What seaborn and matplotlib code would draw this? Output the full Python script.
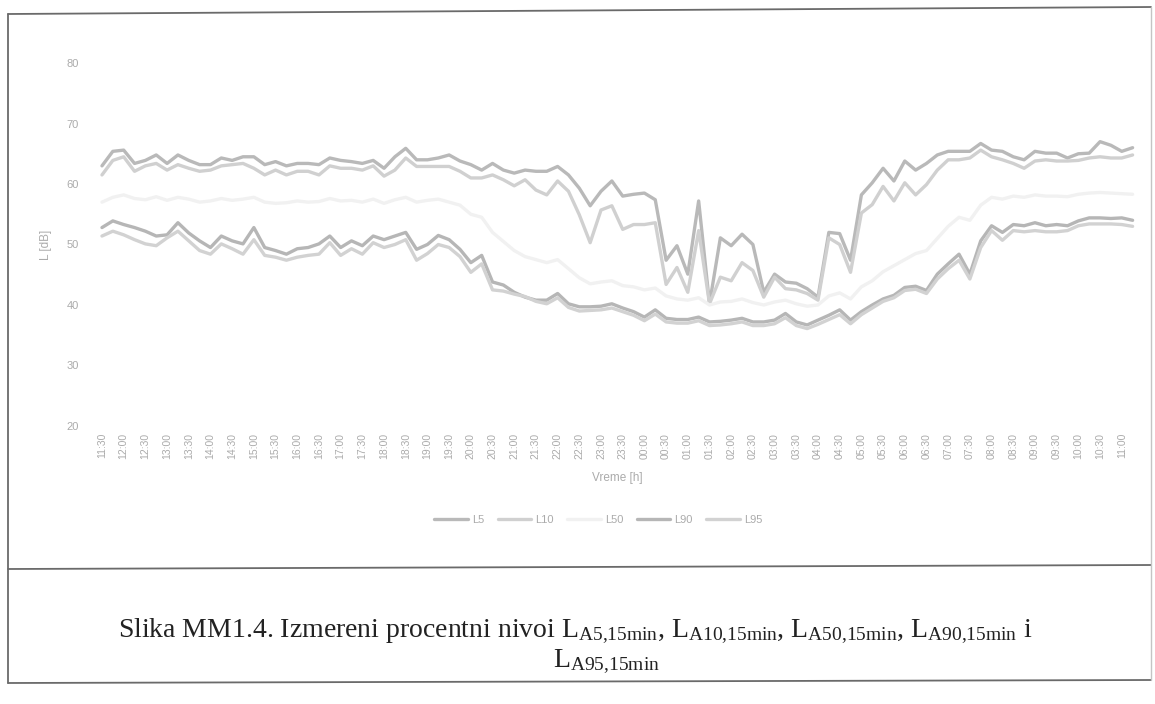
import numpy as np
import pandas as pd
import matplotlib
matplotlib.use("Agg")
import matplotlib.pyplot as plt
from matplotlib.lines import Line2D
import seaborn as sns

# ---------------- data ----------------
series_names = ["L5", "L10", "L50", "L90", "L95"]

tick_labels = ["11:30", "12:00", "12:30", "13:00", "13:30", "14:00", "14:30", "15:00",
               "15:30", "16:00", "16:30", "17:00", "17:30", "18:00", "18:30", "19:00",
               "19:30", "20:00", "20:30", "21:00", "21:30", "22:00", "22:30", "23:00",
               "23:30", "00:00", "00:30", "01:00", "01:30", "02:00", "02:30", "03:00",
               "03:30", "04:00", "04:30", "05:00", "05:30", "06:00", "06:30", "07:00",
               "07:30", "08:00", "08:30", "09:00", "09:30", "10:00", "10:30", "11:00"]

L5 = [63.0, 65.4, 65.6, 63.4, 63.9, 64.8, 63.4, 64.8, 63.9, 63.2, 63.2, 64.3, 63.9, 64.5,
      64.5, 63.2, 63.7, 63.0, 63.4, 63.4, 63.2, 64.3, 63.9, 63.7, 63.4, 63.9, 62.6, 64.5,
      65.9, 64.0, 64.0, 64.3, 64.8, 63.8, 63.2, 62.3, 63.4, 62.3, 61.8, 62.3, 62.1,
      62.1, 62.9, 61.5, 59.3, 56.4, 58.8, 60.5, 58.0, 58.3, 58.5, 57.4, 47.4, 49.8, 45.1, 57.2,
      40.2, 51.1, 49.8, 51.7, 50.0, 42.1, 45.1, 43.8, 43.6, 42.7, 41.3, 52.0, 51.8, 47.4,
      58.2, 60.2, 62.6, 60.5, 63.8, 62.3, 63.4, 64.8, 65.4, 65.4, 65.4, 66.7, 65.6, 65.4,
      64.5, 64.0, 65.4, 65.1, 65.1, 64.3, 65.0, 65.1, 67.0, 66.4, 65.4, 66.0]

L10 = [61.5, 63.9, 64.5, 62.1, 63.0, 63.4, 62.3, 63.2, 62.6, 62.1, 62.3, 63.0, 63.2, 63.4,
       62.6, 61.5, 62.3, 61.5, 62.1, 62.1, 61.5, 63.0, 62.6, 62.6, 62.3, 63.0, 61.3, 62.3,
       64.3, 62.9, 62.9, 62.9, 62.9, 62.1, 61.0, 61.0, 61.5, 60.7, 59.7, 60.7, 59.0,
       58.2, 60.5, 58.8, 54.9, 50.3, 55.7, 56.4, 52.5, 53.3, 53.3, 53.6, 43.4, 46.2, 42.1, 52.3,
       40.2, 44.6, 44.0, 47.0, 45.7, 41.3, 44.6, 42.7, 42.5, 41.9, 40.8, 51.1, 50.0, 45.4,
       55.2, 56.6, 59.6, 57.2, 60.2, 58.2, 59.9, 62.3, 64.0, 64.0, 64.3, 65.6, 64.5, 64.0,
       63.4, 62.6, 63.8, 64.0, 63.8, 63.8, 63.9, 64.3, 64.5, 64.3, 64.3, 64.8]

L50 = [57.0, 57.8, 58.2, 57.6, 57.4, 57.9, 57.3, 57.8, 57.5, 57.0, 57.2, 57.6, 57.3, 57.5,
       57.8, 57.0, 56.8, 56.9, 57.2, 57.0, 57.1, 57.6, 57.2, 57.3, 57.0, 57.5, 56.8, 57.4,
       57.8, 57.0, 57.3, 57.5, 57.0, 56.5, 55.0, 54.5, 52.0, 50.5, 49.0, 48.0, 47.5,
       47.0, 47.5, 46.0, 44.5, 43.5, 43.8, 44.0, 43.2, 43.0, 42.5, 42.8, 41.5, 41.0, 40.8, 41.2,
       40.0, 40.5, 40.6, 41.0, 40.4, 40.0, 40.5, 40.8, 40.2, 39.8, 40.0, 41.5, 42.0, 41.0,
       43.0, 44.0, 45.5, 46.5, 47.5, 48.5, 49.0, 51.0, 53.0, 54.5, 54.0, 56.5, 57.8, 57.5,
       58.0, 57.8, 58.2, 58.0, 58.0, 57.9, 58.3, 58.5, 58.6, 58.5, 58.4, 58.3]

L90 = [52.8, 53.9, 53.3, 52.8, 52.2, 51.4, 51.6, 53.6, 51.9, 50.6, 49.5, 51.4, 50.6, 50.1,
       52.8, 49.5, 49.0, 48.4, 49.3, 49.5, 50.1, 51.4, 49.5, 50.6, 49.8, 51.4, 50.8, 51.4,
       52.0, 49.2, 50.0, 51.5, 50.8, 49.2, 47.0, 48.2, 43.8, 43.3, 42.1, 41.3, 40.8,
       40.8, 41.9, 40.2, 39.7, 39.7, 39.8, 40.2, 39.5, 38.9, 38.0, 39.2, 37.8, 37.6, 37.6, 38.0,
       37.2, 37.3, 37.5, 37.8, 37.2, 37.2, 37.5, 38.6, 37.2, 36.7, 37.5, 38.3, 39.2, 37.5,
       38.9, 40.0, 41.0, 41.6, 42.9, 43.1, 42.4, 45.1, 46.8, 48.4, 45.1, 50.6, 53.1, 52.0,
       53.3, 53.1, 53.6, 53.1, 53.3, 53.1, 53.9, 54.4, 54.4, 54.3, 54.4, 54.0]

L95 = [51.4, 52.2, 51.6, 50.8, 50.1, 49.8, 51.1, 52.2, 50.6, 49.0, 48.4, 50.1, 49.3, 48.4,
       50.8, 48.2, 47.9, 47.4, 47.9, 48.2, 48.4, 50.3, 48.2, 49.3, 48.4, 50.3, 49.5, 50.0,
       50.8, 47.4, 48.5, 50.0, 49.5, 48.0, 45.4, 46.8, 42.5, 42.3, 41.8, 41.4, 40.6,
       40.2, 41.2, 39.6, 39.0, 39.1, 39.2, 39.5, 38.9, 38.3, 37.4, 38.5, 37.2, 37.0, 37.0, 37.4,
       36.6, 36.7, 36.9, 37.2, 36.6, 36.6, 36.9, 37.9, 36.6, 36.1, 36.8, 37.6, 38.4, 36.9,
       38.4, 39.5, 40.6, 41.2, 42.4, 42.6, 41.9, 44.3, 46.0, 47.4, 44.3, 49.5, 52.3, 50.7,
       52.3, 52.1, 52.3, 52.1, 52.1, 52.3, 53.1, 53.4, 53.4, 53.4, 53.3, 53.0]

y_ticks = [20, 30, 40, 50, 60, 70, 80]

# ---------------- styling ----------------
sns.set_theme(style="white")
plt.rcParams["font.family"] = ["Liberation Sans", "DejaVu Sans"]

colors = {"L5": "#b9b9b9", "L10": "#d0d0d0", "L50": "#f1f1f1",
          "L90": "#b6b6b6", "L95": "#d2d2d2"}
text_grey = "#ababab"

fig = plt.figure(figsize=(11.55, 7.04), dpi=100)
ax = fig.add_axes([0.0836, 0.3949, 0.9017, 0.5156])

data = {"L5": L5, "L10": L10, "L50": L50, "L90": L90, "L95": L95}
n = len(L5)
x_idx = np.arange(n)
df = pd.DataFrame({"idx": np.tile(x_idx, len(series_names)),
                   "value": np.concatenate([data[s] for s in series_names]),
                   "series": np.repeat(series_names, n)})

sns.lineplot(data=df, x="idx", y="value", hue="series", hue_order=series_names,
             palette=colors, linewidth=2.4, ax=ax, legend=False)

ax.set_xlim(-0.5, n - 0.5)
ax.set_ylim(20, 80)
ax.set_yticks(y_ticks)
ax.set_yticklabels([str(v) for v in y_ticks], fontsize=8, color=text_grey)
ax.set_xticks(np.arange(0, 2 * len(tick_labels), 2))
ax.set_xticklabels(tick_labels, rotation=90, fontsize=7.5, color=text_grey)
ax.tick_params(axis="y", length=0, pad=13)
ax.tick_params(axis="x", length=0, pad=5)
for s in ax.spines.values():
    s.set_visible(False)
ax.grid(False)
ax.set_xlabel("Vreme [h]", fontsize=8.5, color=text_grey, labelpad=9)
ax.set_ylabel("L [dB]", fontsize=8.5, color=text_grey, labelpad=10)

handles = [Line2D([0], [0], color=colors[s], lw=2.4) for s in series_names]
leg = fig.legend(handles, series_names, loc="center", bbox_to_anchor=(0.518, 0.262),
                 ncol=5, frameon=False, fontsize=8, handlelength=3.0,
                 columnspacing=1.2, handletextpad=0.4)
for t in leg.get_texts():
    t.set_color(text_grey)

# ---------------- frame lines (table cell look) ----------------
W, H = 1155.0, 704.0
def fl(x0, y0, x1, y1, lw=1.3, c="#6a6a6a"):
    fig.add_artist(Line2D([x0 / W, x1 / W], [1 - y0 / H, 1 - y1 / H],
                          transform=fig.transFigure, color=c, lw=lw))

fl(8, 14, 1151, 7)        # top
fl(8, 569, 1151, 565)     # separator
fl(8, 683, 1151, 680)     # bottom
fl(8, 14, 8, 683)         # left
fl(1151, 7, 1151, 680, lw=1.0, c="#c4c4c4")  # right

# ---------------- caption ----------------
plt.rcParams["mathtext.fontset"] = "custom"
plt.rcParams["mathtext.rm"] = "Liberation Serif"
plt.rcParams["mathtext.it"] = "Liberation Serif:italic"
cap1 = (r"Slika MM1.4. Izmereni procentni nivoi L$_{\mathrm{A5{,}15min}}$, "
        r"L$_{\mathrm{A10{,}15min}}$, L$_{\mathrm{A50{,}15min}}$, L$_{\mathrm{A90{,}15min}}$ i")
cap2 = r"L$_{\mathrm{A95{,}15min}}$"
fig.text(0.498, 1 - 631 / H, cap1, ha="center", va="center", fontsize=20,
         family="Liberation Serif", color="#222222")
fig.text(0.525, 1 - 662 / H, cap2, ha="center", va="center", fontsize=20,
         family="Liberation Serif", color="#222222")

fig.savefig("out.png", dpi=100, facecolor="white")
